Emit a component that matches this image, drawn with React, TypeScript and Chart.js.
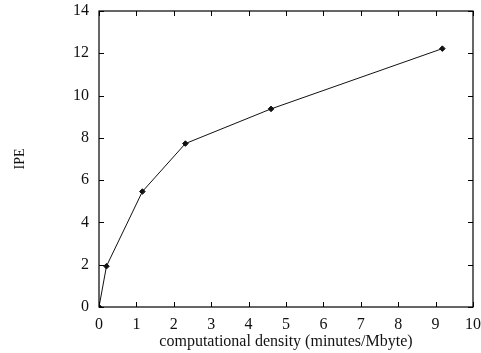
import React, { useEffect, useRef } from "react";
import { Chart, registerables } from "chart.js";

Chart.register(...registerables);

const xValues = [0, 0.2, 1.16, 2.31, 4.6, 9.18];
const ipeValues = [0, 1.93, 5.46, 7.73, 9.37, 12.22];
const xTicks = [0, 1, 2, 3, 4, 5, 6, 7, 8, 9, 10];
const yTicks = [0, 2, 4, 6, 8, 10, 12, 14];
const xTitle = "computational density (minutes/Mbyte)";
const yTitle = "IPE";

const FONT = "'Liberation Serif', 'Times New Roman', serif";

const framePlugin = {
  id: "frameTicks",
  afterDraw(chart: any) {
    const { ctx, chartArea } = chart;
    const { left, right, top, bottom } = chartArea;
    const xs = chart.scales.x;
    const ys = chart.scales.y;
    const len = 5;
    ctx.save();
    ctx.strokeStyle = "#000";
    ctx.lineWidth = 1.2;
    ctx.strokeRect(left, top, right - left, bottom - top);
    ctx.lineWidth = 1;
    ctx.beginPath();
    xTicks.forEach((v) => {
      const px = Math.round(xs.getPixelForValue(v)) + 0.5;
      ctx.moveTo(px, bottom);
      ctx.lineTo(px, bottom - len);
      ctx.moveTo(px, top);
      ctx.lineTo(px, top + len);
    });
    yTicks.forEach((v) => {
      const py = Math.round(ys.getPixelForValue(v)) + 0.5;
      ctx.moveTo(left, py);
      ctx.lineTo(left + len, py);
      ctx.moveTo(right, py);
      ctx.lineTo(right - len, py);
    });
    ctx.stroke();
    ctx.restore();
  },
};

const hiddenGrid = (len: number) => ({
  display: true,
  drawOnChartArea: false,
  drawTicks: true,
  tickLength: len,
  color: "rgba(0,0,0,0)",
});

export default function App() {
  const ref = useRef<HTMLCanvasElement | null>(null);
  useEffect(() => {
    if (!ref.current) return;
    const chart = new Chart(ref.current, {
      type: "scatter",
      data: {
        datasets: [
          {
            data: xValues.map((x, i) => ({ x, y: ipeValues[i] })),
            showLine: true,
            borderColor: "#111",
            borderWidth: 1,
            pointStyle: "rectRot",
            pointRadius: 2.8,
            pointBackgroundColor: "#111",
            pointBorderColor: "#111",
            pointBorderWidth: 1,
          },
        ],
      },
      options: {
        animation: false,
        responsive: false,
        devicePixelRatio: 1,
        layout: { padding: { top: 11, right: 0, left: 0, bottom: 0 } },
        plugins: { legend: { display: false }, tooltip: { enabled: false } },
        scales: {
          x: {
            type: "linear",
            min: 0,
            max: 10,
            afterBuildTicks: (s: any) => {
              s.ticks = xTicks.map((v) => ({ value: v }));
            },
            afterFit: (s: any) => {
              s.height = 46;
            },
            grid: hiddenGrid(8),
            border: { display: false },
            ticks: {
              color: "#111",
              padding: 0,
              font: { family: FONT, size: 16 },
              maxRotation: 0,
            },
            title: {
              display: true,
              text: xTitle,
              color: "#111",
              font: { family: FONT, size: 16, lineHeight: 1 },
              padding: { top: 0, bottom: 3 },
            },
          },
          y: {
            type: "linear",
            min: 0,
            max: 14,
            afterBuildTicks: (s: any) => {
              s.ticks = yTicks.map((v) => ({ value: v }));
            },
            afterFit: (s: any) => {
              s.width = 99;
            },
            grid: hiddenGrid(10),
            border: { display: false },
            ticks: {
              color: "#111",
              padding: 0,
              font: { family: FONT, size: 16 },
            },
            title: {
              display: true,
              text: yTitle,
              color: "#111",
              font: { family: FONT, size: 14, lineHeight: 1.2 },
              padding: { top: 12, bottom: 0 },
            },
          },
        },
      },
      plugins: [framePlugin],
    } as any);
    return () => chart.destroy();
  }, []);
  return (
    <div style={{ position: "absolute", left: 0, top: 0, width: 481, height: 353, background: "#fff" }}>
      <canvas ref={ref} width={481} height={353} style={{ width: 481, height: 353 }} />
    </div>
  );
}
